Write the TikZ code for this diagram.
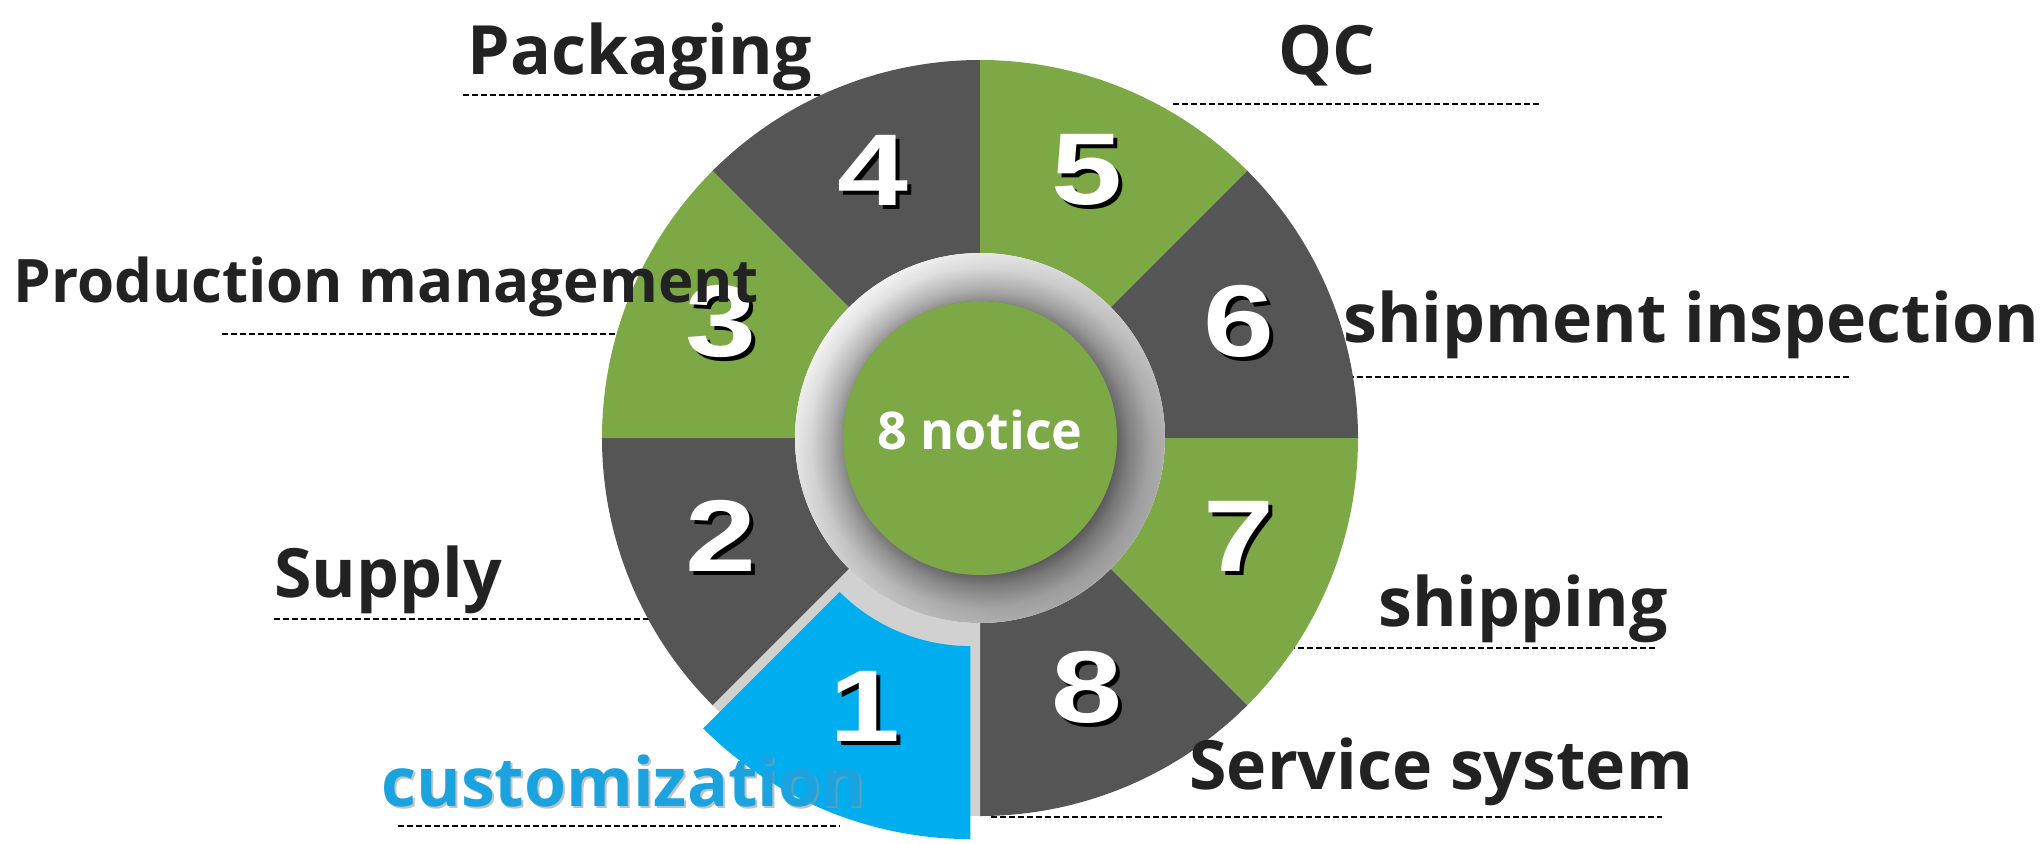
\documentclass[tikz,border=0pt]{standalone}
\usepackage{fontspec}
\usepackage{graphicx}
\usetikzlibrary{calc}
\newfontfamily\labelfont{Open Sans}
\newfontfamily\digitfont{Liberation Sans}
\definecolor{segGray}{HTML}{555555}
\definecolor{segGreen}{HTML}{7CA845}
\definecolor{segBlue}{HTML}{00AEEF}
\definecolor{txtBlue}{HTML}{1BA3E0}
\definecolor{txtDark}{HTML}{222222}
\newcommand\bignum[1]{\scalebox{1.25}[1]{#1}}
\pgfdeclareradialshading{ringshade}{\pgfpointorigin}{color(0bp)=(black!55); color(18.5bp)=(black!55); color(20bp)=(black!38); color(23bp)=(black!14); color(25bp)=(black!7); color(50bp)=(black!7)}

\begin{document}
\begin{tikzpicture}[x=0.5pt, y=0.5pt]
        % ================= 样式定义 =================
        \tikzset{
            numtxt/.style={font=\digitfont\bfseries\fontsize{51}{51}\selectfont, text=white, inner sep=0pt},
            numshadow/.style={numtxt, text=black, xshift=2pt, yshift=-2pt},
            lbl/.style={font=\labelfont\bfseries\fontsize{34}{34}\selectfont, text=txtDark, anchor=base west, inner sep=0pt},
            uline/.style={black, line width=1.4pt, dash pattern=on 3pt off 1.5pt}
        }
        \useasboundingbox (-980,-405) rectangle (1064,438);

        % ================= 虚线 =================
        \coordinate (pk-l) at (-517,343);  \coordinate (pk-r) at (-150,343);
        \coordinate (qc-l) at (193,334);   \coordinate (qc-r) at (562,334);
        \coordinate (pm-l) at (-758,104);  \coordinate (pm-r) at (-340,104);
        \coordinate (si-l) at (350,61);    \coordinate (si-r) at (871,61);
        \coordinate (su-l) at (-706,-181); \coordinate (su-r) at (-320,-181);
        \coordinate (sh-l) at (300,-210);  \coordinate (sh-r) at (676,-210);
        \coordinate (cu-l) at (-582,-388); \coordinate (cu-r) at (-140,-388);
        \coordinate (ss-l) at (11,-379);   \coordinate (ss-r) at (682,-379);
        \draw[uline] (pk-l) -- (pk-r);
        \draw[uline] (qc-l) -- (qc-r);
        \draw[uline] (pm-l) -- (pm-r);
        \draw[uline] (si-l) -- (si-r);
        \draw[uline] (su-l) -- (su-r);
        \draw[uline] (sh-l) -- (sh-r);
        \draw[uline] (cu-l) -- (cu-r);
        \draw[uline] (ss-l) -- (ss-r);

        % ================= 八个扇形 =================
        \fill[segGray]  (180:185) -- (180:378) arc[start angle=180, end angle=225, radius=378] -- (225:185) arc[start angle=225, end angle=180, radius=185] -- cycle; % 2
        \fill[segGreen] (135:185) -- (135:378) arc[start angle=135, end angle=180, radius=378] -- (180:185) arc[start angle=180, end angle=135, radius=185] -- cycle; % 3
        \fill[segGray]  (90:185) -- (90:378) arc[start angle=90, end angle=135, radius=378] -- (135:185) arc[start angle=135, end angle=90, radius=185] -- cycle;    % 4
        \fill[segGreen] (45:185) -- (45:378) arc[start angle=45, end angle=90, radius=378] -- (90:185) arc[start angle=90, end angle=45, radius=185] -- cycle;        % 5
        \fill[segGray]  (0:185) -- (0:378) arc[start angle=0, end angle=45, radius=378] -- (45:185) arc[start angle=45, end angle=0, radius=185] -- cycle;            % 6
        \fill[segGreen] (-45:185) -- (-45:378) arc[start angle=-45, end angle=0, radius=378] -- (0:185) arc[start angle=0, end angle=-45, radius=185] -- cycle;      % 7
        \fill[segGray]  (-90:185) -- (-90:378) arc[start angle=-90, end angle=-45, radius=378] -- (-45:185) arc[start angle=-45, end angle=-90, radius=185] -- cycle; % 8

        % 1号扇形:沿中线向外拉出
        \fill[black!18] (225:185) -- (225:378) arc[start angle=225, end angle=270, radius=378] -- (270:185) arc[start angle=270, end angle=225, radius=185] -- cycle;
        \begin{scope}[shift={(247.5:25)}]
            \fill[segBlue] (225:185) -- (225:378) arc[start angle=225, end angle=270, radius=378] -- (270:185) arc[start angle=270, end angle=225, radius=185] -- cycle;
        \end{scope}

        % ================= 中心圆环 =================
        \shade[shading=ringshade] (0,0) circle[radius=185];
        % 左上亮、右下暗
        \shade[top color=white, bottom color=black, shading angle=45, opacity=0.3, even odd rule] (0,0) circle[radius=185] (0,0) circle[radius=137];
        \fill[segGreen] (0,0) circle[radius=137];
        \node[font=\labelfont\bfseries\fontsize{26}{26}\selectfont, text=white] (ctr) at (0,8) {8 notice};

        % ================= 编号 =================
        \begin{scope}[shift={(0,9)}]
            \node[numshadow] (s1) at (247.5:300) {\bignum{1}};
            \node[numtxt]    (n1) at (247.5:300) {\bignum{1}};
            \node[numshadow] (s2) at (202.5:280) {\bignum{2}};
            \node[numtxt]    (n2) at (202.5:280) {\bignum{2}};
            \node[numshadow] (s3) at (157.5:280) {\bignum{3}};
            \node[numtxt]    (n3) at (157.5:280) {\bignum{3}};
            \node[numshadow] (s4) at (112.5:280) {\bignum{4}};
            \node[numtxt]    (n4) at (112.5:280) {\bignum{4}};
            \node[numshadow] (s5) at (67.5:280) {\bignum{5}};
            \node[numtxt]    (n5) at (67.5:280) {\bignum{5}};
            \node[numshadow] (s6) at (22.5:280) {\bignum{6}};
            \node[numtxt]    (n6) at (22.5:280) {\bignum{6}};
            \node[numshadow] (s7) at (-22.5:280) {\bignum{7}};
            \node[numtxt]    (n7) at (-22.5:280) {\bignum{7}};
            \node[numshadow] (s8) at (-67.5:280) {\bignum{8}};
            \node[numtxt]    (n8) at (-67.5:280) {\bignum{8}};
        \end{scope}

        % ================= 文字标签 =================
        \node[lbl] (pack) at (-513,364) {Packaging};
        \node[lbl] (qc)   at (298,364)  {QC};
        \node[lbl, font=\labelfont\bfseries\fontsize{30}{30}\selectfont] (prod) at (-967,136) {Production management};
        \node[lbl] (insp) at (363,96)   {shipment inspection};
        \node[lbl] (supp) at (-706,-159) {Supply};
        \node[lbl] (ship) at (398,-188) {shipping};
        \node[lbl, text=black!40, opacity=0.6, xshift=1pt, yshift=-1pt] (custsh) at (-599,-368) {customization};
        \node[lbl, text=txtBlue] (cust) at (-599,-368) {customization};
        \node[lbl] (serv) at (209,-351) {Service system};
\end{tikzpicture}
\end{document}
